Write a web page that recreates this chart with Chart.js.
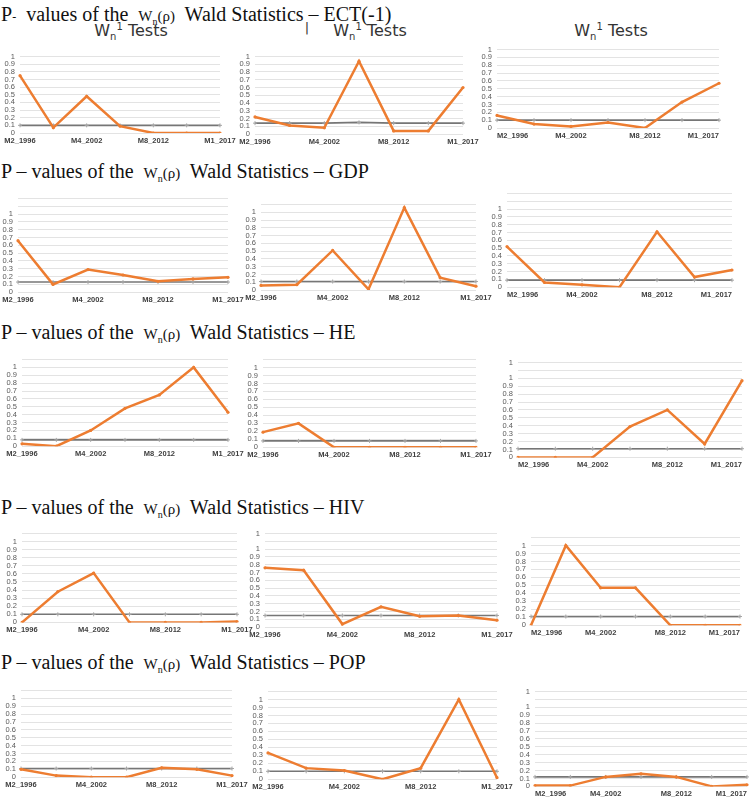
<!DOCTYPE html>
<html>
<head>
<meta charset="utf-8">
<script src="https://cdn.jsdelivr.net/npm/chart.js@4/dist/chart.umd.min.js"></script>
<style>
  body { margin: 0; background: #fff; }
  #page { position: relative; width: 753px; height: 804px; overflow: hidden; background: #fff; }
  .sec { position: absolute; left: 1px; font-family: "Liberation Serif", serif; font-size: 20px; line-height: 22px; white-space: nowrap; color: #111; }
  .sec .w { font-size: 15px; }
  .sec sub { font-size: 10px; line-height: 0; }
  .head { position: absolute; font-family: "DejaVu Sans", sans-serif; font-size: 16px; color: #333; white-space: nowrap; transform: translateX(-50%); }
  .head sub, .head sup { font-size: 10px; line-height: 0; }
  .box { position: absolute; }
</style>
</head>
<body>
<div id="page">
  <div class="sec" style="top:3px">P<span style="font-size:12px">-</span>&nbsp; values of the&nbsp; <span class="w">W<sub>n</sub>(ρ)</span>&nbsp; Wald Statistics – ECT(-1)</div>
  <div class="head" style="left:131px;top:21px">W<sub>n</sub><sup>1</sup> Tests</div>
  <div class="head" style="left:307px;top:20px;font-size:13px">|</div>
  <div class="head" style="left:370px;top:21px">W<sub>n</sub><sup>1</sup> Tests</div>
  <div class="head" style="left:611px;top:21px">W<sub>n</sub><sup>1</sup> Tests</div>
  <div class="sec" style="top:160px">P – values of the&nbsp; <span class="w">W<sub>n</sub>(ρ)</span>&nbsp; Wald Statistics – GDP</div>
  <div class="sec" style="top:321px">P – values of the&nbsp; <span class="w">W<sub>n</sub>(ρ)</span>&nbsp; Wald Statistics – HE</div>
  <div class="sec" style="top:496px">P – values of the&nbsp; <span class="w">W<sub>n</sub>(ρ)</span>&nbsp; Wald Statistics – HIV</div>
  <div class="sec" style="top:651px">P – values of the&nbsp; <span class="w">W<sub>n</sub>(ρ)</span>&nbsp; Wald Statistics – POP</div>
</div>
<script>
// categories on the x axis (only every second one is labelled in the figure)
const categories = ["M2_1996", "", "M4_2002", "", "M8_2012", "", "M1_2017"];

// P-values (orange) and the reference line (grey), one pair per panel
const ect1 = [0.75, 0.07, 0.48, 0.09, 0.0, 0.0, 0.0];
const ect1Ref = [0.1, 0.1, 0.1, 0.1, 0.1, 0.1, 0.1];
const ect2 = [0.22, 0.11, 0.08, 0.94, 0.04, 0.04, 0.6];
const ect2Ref = [0.14, 0.14, 0.14, 0.15, 0.14, 0.14, 0.14];
const ect3 = [0.16, 0.05, 0.02, 0.07, 0.0, 0.33, 0.57];
const ect3Ref = [0.1, 0.1, 0.1, 0.1, 0.1, 0.1, 0.1];

const gdp1 = [0.66, 0.1, 0.29, 0.22, 0.14, 0.17, 0.19];
const gdp1Ref = [0.13, 0.13, 0.13, 0.13, 0.13, 0.13, 0.13];
const gdp2 = [0.06, 0.07, 0.51, 0.01, 1.06, 0.16, 0.05];
const gdp2Ref = [0.11, 0.11, 0.11, 0.11, 0.11, 0.11, 0.11];
const gdp3 = [0.52, 0.06, 0.03, 0.0, 0.71, 0.13, 0.22];
const gdp3Ref = [0.09, 0.09, 0.09, 0.09, 0.09, 0.09, 0.09];

const he1 = [0.03, 0.0, 0.2, 0.48, 0.65, 1.0, 0.43];
const he1Ref = [0.08, 0.08, 0.08, 0.08, 0.08, 0.08, 0.08];
const he2 = [0.19, 0.3, 0.0, 0.0, 0.0, 0.0, 0.0];
const he2Ref = [0.08, 0.08, 0.08, 0.08, 0.08, 0.08, 0.08];
const he3 = [0.0, 0.0, 0.0, 0.39, 0.6, 0.17, 0.97];
const he3Ref = [0.11, 0.11, 0.11, 0.11, 0.11, 0.11, 0.11];

const hiv1 = [0.0, 0.38, 0.61, 0.0, 0.0, 0.0, 0.01];
const hiv1Ref = [0.1, 0.1, 0.1, 0.1, 0.1, 0.1, 0.1];
const hiv2 = [0.76, 0.73, 0.04, 0.26, 0.14, 0.15, 0.09];
const hiv2Ref = [0.15, 0.15, 0.15, 0.15, 0.15, 0.15, 0.15];
const hiv3 = [0.0, 1.0, 0.47, 0.47, 0.0, 0.0, 0.0];
const hiv3Ref = [0.11, 0.11, 0.11, 0.11, 0.11, 0.11, 0.11];

const pop1 = [0.1, 0.02, 0.0, 0.0, 0.12, 0.1, 0.02];
const pop1Ref = [0.11, 0.11, 0.11, 0.11, 0.11, 0.11, 0.11];
const pop2 = [0.33, 0.14, 0.11, 0.0, 0.14, 1.0, 0.02];
const pop2Ref = [0.1, 0.1, 0.1, 0.1, 0.1, 0.1, 0.1];
const pop3 = [0.01, 0.01, 0.12, 0.16, 0.12, 0.0, 0.02];
const pop3Ref = [0.12, 0.12, 0.12, 0.12, 0.12, 0.12, 0.12];

// where each panel sits on the page: l/r = first/last point, t = the 1.0 line, b = the 0 line
const panels = [
  { p: ect1, ref: ect1Ref, l: 20, r: 220, t: 53, b: 133, max: 1 },
  { p: ect2, ref: ect2Ref, l: 255, r: 463, t: 53, b: 134, max: 1 },
  { p: ect3, ref: ect3Ref, l: 497, r: 719, t: 46, b: 128, max: 1 },
  { p: gdp1, ref: gdp1Ref, l: 18, r: 228, t: 211, b: 292, max: 1.2 },
  { p: gdp2, ref: gdp2Ref, l: 261, r: 476, t: 209, b: 290, max: 1.1 },
  { p: gdp3, ref: gdp3Ref, l: 507, r: 732, t: 206, b: 287, max: 1.2 },
  { p: he1, ref: he1Ref, l: 22, r: 228, t: 364, b: 446, max: 1.1 },
  { p: he2, ref: he2Ref, l: 263, r: 476, t: 364, b: 447, max: 1.1 },
  { p: he3, ref: he3Ref, l: 518, r: 742, t: 375, b: 457, max: 1.2, topOne: true },
  { p: hiv1, ref: hiv1Ref, l: 22, r: 237, t: 538, b: 622, max: 1.1 },
  { p: hiv2, ref: hiv2Ref, l: 265, r: 497, t: 546, b: 627, max: 1.2, topOne: true },
  { p: hiv3, ref: hiv3Ref, l: 531, r: 740, t: 542, b: 625, max: 1.1 },
  { p: pop1, ref: pop1Ref, l: 21, r: 232, t: 695, b: 777, max: 1.1 },
  { p: pop2, ref: pop2Ref, l: 268, r: 497, t: 696, b: 779, max: 1.1 },
  { p: pop3, ref: pop3Ref, l: 535, r: 747, t: 704, b: 786, max: 1.2, topOne: true },
];

const yAxisW = 22, xAxisH = 13, padTop = 6, padRight = 20;
const page = document.getElementById("page");

function addPanel(cfg) {
  const plotTop = cfg.b - (cfg.b - cfg.t) * cfg.max;
  const rightCol = cfg.l > 480;
  const box = document.createElement("div");
  box.className = "box";
  box.style.left = (cfg.l - yAxisW) + "px";
  box.style.top = (plotTop - padTop) + "px";
  box.style.width = (cfg.r - cfg.l + yAxisW + padRight) + "px";
  box.style.height = (cfg.b - plotTop + padTop + xAxisH) + "px";
  const canvas = document.createElement("canvas");
  box.appendChild(canvas);
  page.appendChild(box);

  return new Chart(canvas, {
    type: "line",
    data: {
      labels: categories,
      datasets: [
        {
          data: cfg.p,
          borderColor: "#ED7D31",
          backgroundColor: "#ED7D31",
          borderWidth: 2.5,
          pointRadius: 1.6,
          pointBorderWidth: 0,
          tension: 0,
        },
        {
          data: cfg.ref,
          borderColor: "#767676",
          backgroundColor: "#a6a6a6",
          borderWidth: 1.6,
          pointStyle: "cross",
          pointRadius: 2,
          pointBorderColor: "#a6a6a6",
          pointBorderWidth: 1,
          tension: 0,
        },
      ],
    },
    options: {
      responsive: true,
      maintainAspectRatio: false,
      animation: false,
      layout: { padding: { top: padTop, right: padRight, left: 0, bottom: 0 } },
      plugins: { legend: { display: false }, tooltip: { enabled: false } },
      scales: {
        x: {
          grid: { display: false, drawTicks: false },
          border: { display: false },
          ticks: {
            autoSkip: false,
            maxRotation: 0,
            padding: 3,
            align: rightCol ? "inner" : "center",
            color: "#404040",
            font: { family: "Liberation Sans", size: 7.5, weight: "bold" },
          },
          afterFit: (s) => { s.height = xAxisH; },
        },
        y: {
          min: 0,
          max: cfg.max,
          border: { display: false },
          grid: { color: "#e3e3e3", lineWidth: 1, drawTicks: false },
          ticks: {
            stepSize: 0.1,
            autoSkip: false,
            padding: 5,
            color: "#595959",
            font: { family: "Liberation Sans", size: 7.5 },
            callback: (v) => {
              if (v > 1.0001) return cfg.topOne && Math.abs(v - cfg.max) < 1e-6 ? "1" : "";
              return String(Math.round(v * 10) / 10);
            },
          },
          afterFit: (s) => { s.width = yAxisW; },
        },
      },
    },
  });
}

panels.forEach(addPanel);
</script>
</body>
</html>
